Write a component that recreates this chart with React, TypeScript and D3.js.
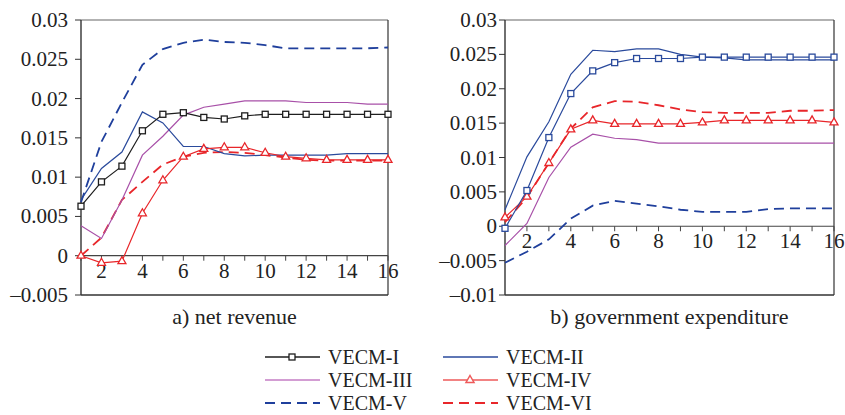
import React from "react";
import * as d3 from "d3";

// Impulse responses over 16 periods
const periods = d3.range(1, 17);

// a) net revenue
const revI = [0.0063, 0.0094, 0.0114, 0.0159, 0.018, 0.0182, 0.0176, 0.0174, 0.0178, 0.018, 0.018, 0.018, 0.018, 0.018, 0.018, 0.018];
const revII = [0.0071, 0.0111, 0.0132, 0.0183, 0.0169, 0.0139, 0.0139, 0.013, 0.0127, 0.0128, 0.0128, 0.0128, 0.0128, 0.013, 0.013, 0.013];
const revIII = [0.0038, 0.0022, 0.0071, 0.0128, 0.0152, 0.0179, 0.0189, 0.0193, 0.0197, 0.0197, 0.0197, 0.0195, 0.0195, 0.0195, 0.0193, 0.0193];
const revIV = [0.0, -0.0009, -0.0007, 0.0054, 0.0096, 0.0126, 0.0136, 0.0138, 0.0138, 0.0131, 0.0126, 0.0124, 0.0122, 0.0122, 0.0122, 0.0122];
const revV = [0.0068, 0.0145, 0.0195, 0.0243, 0.0263, 0.0271, 0.0275, 0.0272, 0.0271, 0.0268, 0.0264, 0.0264, 0.0264, 0.0264, 0.0264, 0.0265];
const revVI = [0.0, 0.0023, 0.0071, 0.0094, 0.0116, 0.0126, 0.0131, 0.0132, 0.0131, 0.0128, 0.0125, 0.0122, 0.0121, 0.0121, 0.0121, 0.0121];

// b) government expenditure
const expI = [-0.0003, 0.0052, 0.0129, 0.0193, 0.0226, 0.0238, 0.0244, 0.0244, 0.0244, 0.0246, 0.0246, 0.0246, 0.0246, 0.0246, 0.0246, 0.0246];
const expII = [0.0024, 0.0101, 0.0152, 0.0221, 0.0256, 0.0254, 0.0258, 0.0258, 0.025, 0.0246, 0.0245, 0.0242, 0.0242, 0.0242, 0.0242, 0.0242];
const expIII = [-0.0028, 0.0004, 0.0071, 0.0115, 0.0134, 0.0128, 0.0126, 0.0121, 0.0121, 0.0121, 0.0121, 0.0121, 0.0121, 0.0121, 0.0121, 0.0121];
const expIV = [0.0013, 0.0043, 0.0092, 0.0141, 0.0154, 0.0149, 0.0149, 0.0149, 0.0149, 0.0151, 0.0154, 0.0154, 0.0154, 0.0154, 0.0154, 0.0151];
const expV = [-0.0053, -0.0037, -0.0019, 0.0011, 0.003, 0.0037, 0.0033, 0.0029, 0.0024, 0.0021, 0.0021, 0.0021, 0.0025, 0.0026, 0.0026, 0.0026];
const expVI = [0.0006, 0.0042, 0.0092, 0.0142, 0.0173, 0.0182, 0.0181, 0.0176, 0.017, 0.0166, 0.0165, 0.0165, 0.0165, 0.0168, 0.0168, 0.0169];

const revTicks = [-0.005, 0, 0.005, 0.01, 0.015, 0.02, 0.025, 0.03];
const expTicks = [-0.01, -0.005, 0, 0.005, 0.01, 0.015, 0.02, 0.025, 0.03];
const xTickLabels = [2, 4, 6, 8, 10, 12, 14, 16];

const modelNames = ["VECM-I", "VECM-II", "VECM-III", "VECM-IV", "VECM-V", "VECM-VI"];

type Style = { color: string; dash?: string; width: number; marker?: "square" | "triangle" };

const BLACK = "#1e1e1e";
const BLUE = "#2a4a9c";
const DBLUE = "#1f3f9c";
const PURPLE = "#a850a8";
const RED = "#e8262a";

const styles: Style[] = [
  { color: BLACK, width: 1.2, marker: "square" },
  { color: BLUE, width: 1.2 },
  { color: PURPLE, width: 1.2 },
  { color: RED, width: 1.2, marker: "triangle" },
  { color: DBLUE, width: 1.8, dash: "10,6" },
  { color: RED, width: 1.8, dash: "10,6" },
];

const FONT = "'Liberation Serif', 'DejaVu Serif', serif";

type PanelProps = {
  left: number;
  right: number;
  top: number;
  bottom: number;
  domain: [number, number];
  ticks: number[];
  labelGap: number;
  series: number[][];
  title: string;
  squareColor: string;
};

function Panel({ left, right, top, bottom, domain, ticks, labelGap, series, title, squareColor }: PanelProps) {
  const x = d3.scaleLinear().domain([1, 16]).range([left, right]);
  const y = d3.scaleLinear().domain(domain).range([bottom, top]);
  const line = d3
    .line<number>()
    .x((_, i) => x(periods[i]))
    .y((v) => y(v));
  const fmt = (v: number) => (v < 0 ? "\u2013" + String(Math.abs(v)) : String(v));
  const y0 = y(0);

  // draw order: dashed first, then solids, marker series on top
  const order = [4, 5, 2, 1, 3, 0];

  return (
    <g>
      {/* frame */}
      <line x1={left} x2={right} y1={top} y2={top} stroke="#666" strokeWidth={1.2} />
      <line x1={right} x2={right} y1={top} y2={bottom} stroke="#333" strokeWidth={1.2} />
      <line x1={left} x2={right} y1={bottom} y2={bottom} stroke="#333" strokeWidth={1.4} />
      <line x1={left} x2={left} y1={top} y2={bottom} stroke="#333" strokeWidth={1.4} />
      {/* zero line with period ticks */}
      <line x1={left} x2={right} y1={y0} y2={y0} stroke="#444" strokeWidth={1.2} />
      {periods.map((p) => (
        <line key={"xt" + p} x1={x(p)} x2={x(p)} y1={y0} y2={y0 + 5} stroke="#444" strokeWidth={1} />
      ))}
      {xTickLabels.map((p) => (
        <text key={"xl" + p} x={x(p)} y={y0 + 22} textAnchor="middle" fontSize={21} fontFamily={FONT} fill="#222">
          {p}
        </text>
      ))}
      {/* y axis */}
      {ticks.map((t) => (
        <g key={"yt" + t}>
          <line x1={left - 6} x2={left} y1={y(t)} y2={y(t)} stroke="#333" strokeWidth={1} />
          <text x={left - labelGap} y={y(t) + 7} textAnchor="end" fontSize={21} fontFamily={FONT} fill="#222">
            {fmt(t)}
          </text>
        </g>
      ))}
      {/* series */}
      {order.map((k) => {
        const s = styles[k];
        const color = k === 0 ? squareColor : s.color;
        return (
          <g key={"s" + k}>
            <path d={line(series[k]) || ""} fill="none" stroke={color} strokeWidth={s.width} strokeDasharray={s.dash} />
            {s.marker === "square" &&
              series[k].map((v, i) => (
                <rect key={i} x={x(periods[i]) - 3} y={y(v) - 3} width={6} height={6} fill="white" stroke={color} strokeWidth={1.3} />
              ))}
            {s.marker === "triangle" &&
              series[k].map((v, i) => {
                const cx = x(periods[i]);
                const cy = y(v);
                return (
                  <path
                    key={i}
                    d={`M${cx},${cy - 4.5}L${cx + 4},${cy + 2.5}L${cx - 4},${cy + 2.5}Z`}
                    fill="white"
                    stroke={color}
                    strokeWidth={1.3}
                  />
                );
              })}
          </g>
        );
      })}
      <text x={(left + right) / 2} y={bottom + 29} textAnchor="middle" fontSize={22} fontFamily={FONT} fill="#222">
        {title}
      </text>
    </g>
  );
}

function LegendItem({ k, x0, yc }: { k: number; x0: number; yc: number }) {
  const s = styles[k];
  const legendColor = k === 2 ? "#c47cc4" : k === 3 ? "#ee5a5a" : s.color;
  const mid = x0 + 27;
  return (
    <g>
      <line x1={x0} x2={x0 + 55} y1={yc} y2={yc} stroke={legendColor} strokeWidth={s.dash ? 2 : 1.5} strokeDasharray={s.dash} />
      {s.marker === "square" && <rect x={mid - 3} y={yc - 3} width={6} height={6} fill="white" stroke={legendColor} strokeWidth={1.3} />}
      {s.marker === "triangle" && (
        <path d={`M${mid},${yc - 4.5}L${mid + 4},${yc + 2.5}L${mid - 4},${yc + 2.5}Z`} fill="white" stroke={legendColor} strokeWidth={1.5} />
      )}
      <text x={x0 + 63} y={yc + 7} fontSize={20} fontFamily={FONT} fill="#222">
        {modelNames[k]}
      </text>
    </g>
  );
}

export default function App() {
  const rows = [357, 380, 403];
  return (
    <svg width={845} height={415} style={{ position: "absolute", left: 0, top: 0, background: "white" }}>
      <rect width={845} height={415} fill="white" />
      <Panel
        left={81}
        right={388}
        top={20}
        bottom={295}
        domain={[-0.005, 0.03]}
        ticks={revTicks}
        labelGap={13}
        series={[revI, revII, revIII, revIV, revV, revVI]}
        title="a) net revenue"
        squareColor={BLACK}
      />
      <Panel
        left={505}
        right={834}
        top={20}
        bottom={295}
        domain={[-0.01, 0.03]}
        ticks={expTicks}
        labelGap={8}
        series={[expI, expII, expIII, expIV, expV, expVI]}
        title="b) government expenditure"
        squareColor={BLUE}
      />
      {[0, 1, 2].map((r) => (
        <g key={"r" + r}>
          <LegendItem k={r * 2} x0={265} yc={rows[r]} />
          <LegendItem k={r * 2 + 1} x0={443} yc={rows[r]} />
        </g>
      ))}
    </svg>
  );
}
